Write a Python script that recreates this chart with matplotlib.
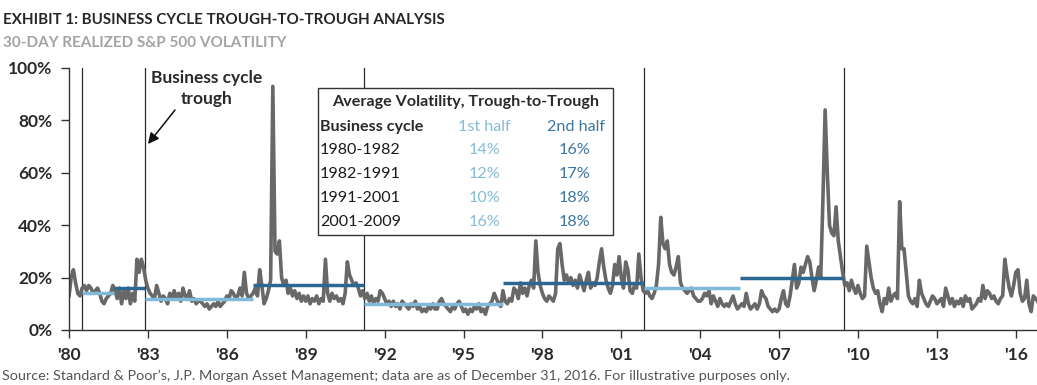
import numpy as np
import matplotlib
matplotlib.use("Agg")
import matplotlib.pyplot as plt
from matplotlib import font_manager
from matplotlib.patches import Rectangle

# ---------------- data ----------------
start_year = 1980
vol = {
    1980: [13, 20, 23, 18, 14, 13, 16, 17, 15, 17, 16, 14],
    1981: [15, 16, 14, 11, 10, 12, 13, 14, 17, 15, 12, 16],
    1982: [10, 15, 12, 16, 10, 14, 11, 27, 22, 27, 24, 19],
    1983: [16, 14, 13, 12, 17, 14, 11, 13, 12, 10, 14, 12],
    1984: [15, 12, 14, 11, 16, 13, 12, 15, 11, 12, 10, 11],
    1985: [11, 10, 9, 10, 8, 9, 10, 9, 11, 9, 10, 11],
    1986: [13, 12, 15, 14, 12, 13, 16, 13, 22, 14, 12, 13],
    1987: [14, 16, 13, 23, 17, 10, 12, 15, 19, 93, 30, 29],
    1988: [34, 20, 17, 19, 14, 16, 13, 15, 12, 14, 11, 13],
    1989: [11, 13, 10, 12, 11, 13, 10, 12, 11, 27, 14, 11],
    1990: [14, 12, 13, 11, 12, 10, 14, 26, 21, 19, 17, 18],
    1991: [16, 13, 15, 12, 14, 11, 13, 10, 12, 11, 15, 14],
    1992: [12, 10, 11, 9, 11, 9, 10, 8, 11, 10, 9, 8],
    1993: [10, 9, 11, 8, 9, 7, 8, 7, 9, 8, 10, 8],
    1994: [8, 11, 12, 10, 9, 8, 7, 9, 8, 10, 11, 9],
    1995: [7, 8, 6, 8, 7, 9, 8, 10, 7, 8, 6, 9],
    1996: [10, 11, 14, 12, 10, 9, 15, 11, 10, 12, 11, 16],
    1997: [15, 12, 18, 14, 16, 13, 17, 19, 16, 34, 22, 17],
    1998: [14, 12, 11, 13, 12, 11, 14, 31, 33, 25, 19, 21],
    1999: [18, 20, 17, 19, 16, 21, 18, 15, 19, 22, 16, 18],
    2000: [17, 20, 26, 31, 24, 19, 16, 14, 17, 25, 21, 28],
    2001: [20, 16, 26, 23, 15, 14, 17, 16, 29, 20, 15, 14],
    2002: [15, 13, 12, 14, 17, 25, 43, 33, 31, 34, 25, 22],
    2003: [21, 24, 28, 18, 16, 15, 14, 15, 16, 13, 12, 11],
    2004: [11, 12, 14, 13, 15, 10, 13, 11, 9, 12, 10, 9],
    2005: [10, 9, 11, 13, 10, 8, 9, 10, 9, 14, 10, 8],
    2006: [9, 10, 8, 10, 15, 13, 12, 9, 8, 7, 8, 7],
    2007: [8, 12, 15, 10, 9, 13, 19, 25, 16, 18, 24, 22],
    2008: [25, 28, 26, 20, 15, 19, 24, 20, 50, 84, 60, 40],
    2009: [37, 36, 47, 34, 28, 22, 17, 18, 15, 19, 16, 14],
    2010: [17, 14, 12, 13, 32, 26, 20, 16, 14, 15, 10, 7],
    2011: [12, 10, 16, 11, 13, 14, 12, 49, 31, 31, 22, 13],
    2012: [11, 10, 12, 9, 19, 14, 12, 10, 9, 11, 13, 12],
    2013: [10, 11, 12, 9, 16, 13, 10, 12, 9, 11, 10, 12],
    2014: [9, 13, 11, 12, 8, 9, 10, 12, 11, 17, 12, 15],
    2015: [14, 12, 13, 11, 10, 12, 13, 27, 21, 16, 13, 17],
    2016: [22, 23, 14, 11, 12, 19, 10, 7, 13, 12, 11, 9],
}

trough_dates = [1980.5, 1982.9, 1991.2, 2001.85, 2009.45]
cycle_labels = ["1980-1982", "1982-1991", "1991-2001", "2001-2009"]
half_split = [1981.7, 1987.0, 1996.5, 2005.5]
first_half_line = [14, 12, 10, 16]
second_half_line = [16, 17, 18, 20]
first_half_table = ["14%", "12%", "10%", "16%"]
second_half_table = ["16%", "17%", "18%", "18%"]

xtick_years = list(range(1980, 2017, 3))
xtick_labels = ["'" + str(y)[2:] for y in xtick_years]
yticks = [0, 20, 40, 60, 80, 100]
ytick_labels = [f"{v}%" for v in yticks]

# ---------------- style ----------------
names = {f.name for f in font_manager.fontManager.ttflist}
FONT = "Lato" if "Lato" in names else "DejaVu Sans"
plt.rcParams["font.family"] = [FONT, "DejaVu Sans"]

GRAY = "#686868"
LIGHT = "#80b9d9"
DARK = "#2a6893"
LIGHT_TXT = "#86bbd7"
DARK_TXT = "#3a76a1"

W, H = 1037, 385
fig = plt.figure(figsize=(W / 100, H / 100), dpi=100)

def fx(px):
    return px / W

def fy(py):
    return 1 - py / H

ax = fig.add_axes([fx(69), fy(330), 1 - fx(69), fy(68) - fy(330)])

values = np.concatenate([vol[y] for y in sorted(vol)])
x = start_year + np.arange(len(values)) / 12.0

for t in trough_dates:
    ax.plot([t, t], [0, 100], color="#2a2a2a", lw=0.9, zorder=1)

ax.plot(x, values, color=GRAY, lw=2.6, solid_joinstyle="round", zorder=2)

for i in range(len(cycle_labels)):
    ax.plot([trough_dates[i], half_split[i]], [first_half_line[i]] * 2,
            color=LIGHT, lw=2.5, solid_capstyle="butt", zorder=3)
    ax.plot([half_split[i], trough_dates[i + 1]], [second_half_line[i]] * 2,
            color=DARK, lw=2.5, solid_capstyle="butt", zorder=3)

ax.set_xlim(1980, 1980 + (W - 69) / 26.3)
ax.set_ylim(0, 100)
ax.set_xticks(xtick_years)
ax.set_xticklabels(xtick_labels)
ax.set_yticks(yticks)
ax.set_yticklabels(ytick_labels)
for s in ["top", "right"]:
    ax.spines[s].set_visible(False)
for s in ["left", "bottom"]:
    ax.spines[s].set_color("#333333")
    ax.spines[s].set_linewidth(1.0)
ax.tick_params(axis="both", direction="out", length=6, width=1.0, color="#333333",
               labelsize=12.5, labelcolor="#2a2a2a", pad=6)
for lab in ax.get_xticklabels() + ax.get_yticklabels():
    lab.set_fontweight("bold")

# titles
fig.text(fx(3), fy(20), "EXHIBIT 1: BUSINESS CYCLE TROUGH-TO-TROUGH ANALYSIS",
         fontsize=10.9, fontweight="bold", color="#262626", va="center", ha="left")
fig.text(fx(3), fy(43), "30-DAY REALIZED S&P 500 VOLATILITY",
         fontsize=11.0, fontweight="bold", color="#a3a3a3", va="center", ha="left")
fig.text(fx(2), fy(376),
         "Source: Standard & Poor\u2019s, J.P. Morgan Asset Management; data are as of December 31, 2016. For illustrative purposes only.",
         fontsize=10.4, color="#555555", va="center", ha="left")

# annotation
fig.text(fx(207), fy(78), "Business cycle", fontsize=12.5, fontweight="bold",
         color="#2a2a2a", ha="center", va="center")
fig.text(fx(207), fy(99), "trough", fontsize=12.5, fontweight="bold",
         color="#2a2a2a", ha="center", va="center")
ax.annotate("", xy=(fx(148), fy(144)), xycoords="figure fraction",
            xytext=(fx(175), fy(110)), textcoords="figure fraction",
            arrowprops=dict(arrowstyle="-|>", color="#111111", lw=1.1,
                            mutation_scale=16, shrinkA=0, shrinkB=0))

# table box
box = Rectangle((fx(318), fy(235)), fx(613) - fx(318), fy(88) - fy(235),
                transform=fig.transFigure, facecolor="white", edgecolor="#333333",
                lw=1.0, zorder=10)
fig.add_artist(box)
TS = 11.6
fig.text(fx(466), fy(102), "Average Volatility, Trough-to-Trough", fontsize=TS,
         fontweight="bold", color="#2a2a2a", ha="center", va="center", zorder=11)
fig.text(fx(320), fy(127), "Business cycle", fontsize=TS, fontweight="bold",
         color="#2a2a2a", ha="left", va="center", zorder=11)
fig.text(fx(484), fy(127), "1st half", fontsize=TS, color=LIGHT_TXT,
         ha="center", va="center", zorder=11)
fig.text(fx(576), fy(127), "2nd half", fontsize=TS, color=DARK_TXT,
         ha="center", va="center", zorder=11)
row_y = [150, 174, 198, 222]
for i, lab in enumerate(cycle_labels):
    fig.text(fx(320), fy(row_y[i]), lab, fontsize=TS, color="#1a1a1a",
             ha="left", va="center", zorder=11)
    fig.text(fx(485), fy(row_y[i]), first_half_table[i], fontsize=TS,
             color=LIGHT_TXT, ha="center", va="center", zorder=11)
    fig.text(fx(575), fy(row_y[i]), second_half_table[i], fontsize=TS,
             color=DARK_TXT, ha="center", va="center", zorder=11)

fig.savefig("out.png", dpi=100)
